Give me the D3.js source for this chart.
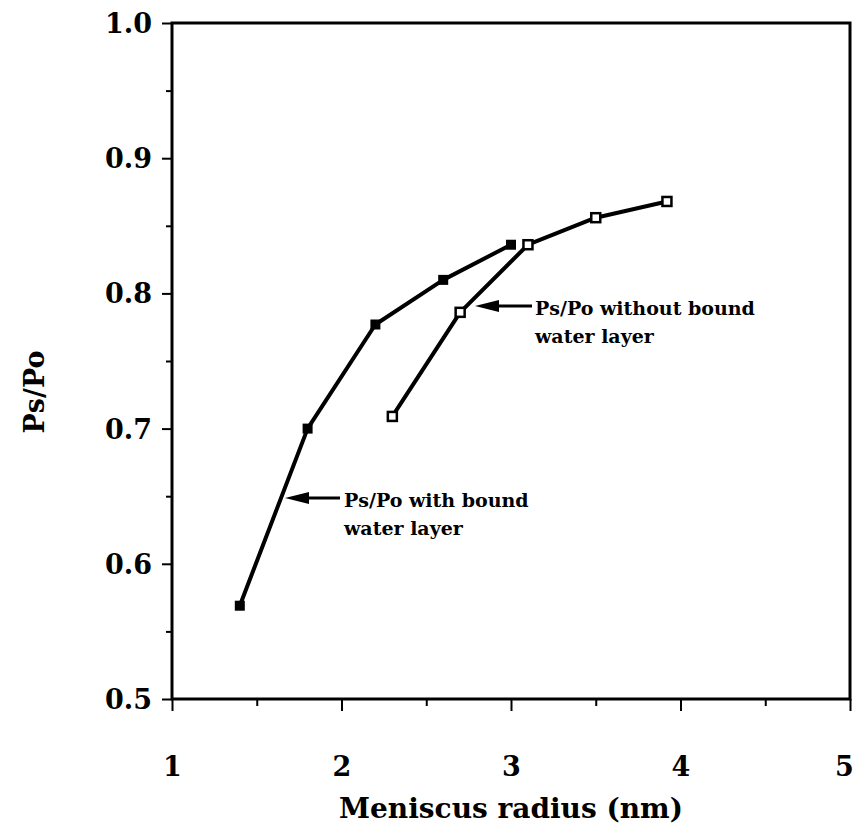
<!DOCTYPE html>
<html><head><meta charset="utf-8">
<script src="https://cdn.jsdelivr.net/npm/d3@7"></script>
<style>body{margin:0;background:#fff}svg{display:block}</style>
</head><body>
<script>
const xWith = [1.4, 1.8, 2.2, 2.6, 3.0];
const yWith = [0.569, 0.700, 0.777, 0.810, 0.836];
const xWithout = [2.3, 2.7, 3.1, 3.5, 3.92];
const yWithout = [0.709, 0.786, 0.836, 0.856, 0.868];
const xTicks = [1, 2, 3, 4, 5];
const yTicks = [0.5, 0.6, 0.7, 0.8, 0.9, 1.0];
const xLabel = "Meniscus radius (nm)";
const yLabel = "Ps/Po";
const annWithout = ["Ps/Po without bound", "water layer"];
const annWith = ["Ps/Po with bound", "water layer"];

const W = 856, H = 830;
const m = {l: 172, r: 6, t: 23, b: 131};
const svg = d3.select("body").append("svg").attr("width", W).attr("height", H);
const font = "'DejaVu Serif', serif";

const x = d3.scaleLinear().domain([1, 5]).range([m.l, W - m.r]);
const y = d3.scaleLinear().domain([0.5, 1.0]).range([H - m.b, m.t]);

// frame
svg.append("rect").attr("x", x(1)).attr("y", y(1)).attr("width", x(5) - x(1)).attr("height", y(0.5) - y(1))
  .attr("fill", "none").attr("stroke", "#000").attr("stroke-width", 3);

// x axis
const xAx = svg.append("g").attr("transform", `translate(0,${y(0.5)})`)
  .call(d3.axisBottom(x).tickValues(xTicks).tickSize(12).tickFormat(d3.format("d")));
xAx.select(".domain").remove();
xAx.selectAll(".tick line").attr("stroke-width", 2);
xAx.selectAll(".tick text").attr("font-family", font).attr("font-weight", "bold").attr("font-size", 27).attr("dy", 0).attr("y", 77)
  .attr("x", d => d === 5 ? -6 : 0);
const xMinor = svg.append("g").attr("transform", `translate(0,${y(0.5)})`)
  .call(d3.axisBottom(x).tickValues(d3.range(1.5, 5, 1)).tickSize(7).tickFormat(""));
xMinor.select(".domain").remove();
xMinor.selectAll(".tick line").attr("stroke-width", 2);

// y axis
const yAx = svg.append("g").attr("transform", `translate(${x(1)},0)`)
  .call(d3.axisLeft(y).tickValues(yTicks).tickSize(10).tickFormat(d3.format(".1f")));
yAx.select(".domain").remove();
yAx.selectAll(".tick line").attr("stroke-width", 2);
yAx.selectAll(".tick text").attr("font-family", font).attr("font-weight", "bold").attr("font-size", 27).attr("x", -20).attr("dy", "0.35em");
const yMinor = svg.append("g").attr("transform", `translate(${x(1)},0)`)
  .call(d3.axisLeft(y).tickValues(d3.range(0.55, 1.0, 0.1)).tickSize(6).tickFormat(""));
yMinor.select(".domain").remove();
yMinor.selectAll(".tick line").attr("stroke-width", 2);

// titles
svg.append("text").attr("x", (x(1) + x(5)) / 2).attr("y", 818).attr("text-anchor", "middle")
  .attr("font-family", font).attr("font-weight", "bold").attr("font-size", 28).text(xLabel);
svg.append("text").attr("transform", `translate(44,392) rotate(-90)`).attr("text-anchor", "middle")
  .attr("font-family", font).attr("font-weight", "bold").attr("font-size", 27).text(yLabel);

// lines
const line = d3.line().x(d => x(d[0])).y(d => y(d[1]));
const dWith = xWith.map((v, i) => [v, yWith[i]]);
const dWithout = xWithout.map((v, i) => [v, yWithout[i]]);
svg.append("path").attr("d", line(dWith)).attr("fill", "none").attr("stroke", "#000").attr("stroke-width", 4).attr("stroke-linejoin", "round");
svg.append("path").attr("d", line(dWithout)).attr("fill", "none").attr("stroke", "#000").attr("stroke-width", 4).attr("stroke-linejoin", "round");

svg.selectAll(".mw").data(dWith).join("rect").attr("x", d => x(d[0]) - 5).attr("y", d => y(d[1]) - 5)
  .attr("width", 10).attr("height", 10).attr("fill", "#000");
svg.selectAll(".mo").data(dWithout).join("rect").attr("x", d => x(d[0]) - 4.5).attr("y", d => y(d[1]) - 4.5)
  .attr("width", 9).attr("height", 9).attr("fill", "#fff").attr("stroke", "#000").attr("stroke-width", 2.5);

// annotations
function arrow(x1, x2, yy) {
  svg.append("line").attr("x1", x1).attr("x2", x2 + 14).attr("y1", yy).attr("y2", yy).attr("stroke", "#000").attr("stroke-width", 3);
  svg.append("path").attr("d", `M${x2},${yy} L${x2 + 24},${yy - 6} L${x2 + 24},${yy + 6} Z`).attr("fill", "#000");
}
arrow(532, 475, 306);
arrow(340, 285, 498);
function ann(lines, tx, ty) {
  const t = svg.append("text").attr("font-family", font).attr("font-weight", "bold").attr("font-size", 19);
  lines.forEach((s, i) => t.append("tspan").attr("x", tx).attr("y", ty + i * 28).text(s));
}
ann(annWithout, 535, 315);
ann(annWith, 344, 507);
</script>
</body></html>
